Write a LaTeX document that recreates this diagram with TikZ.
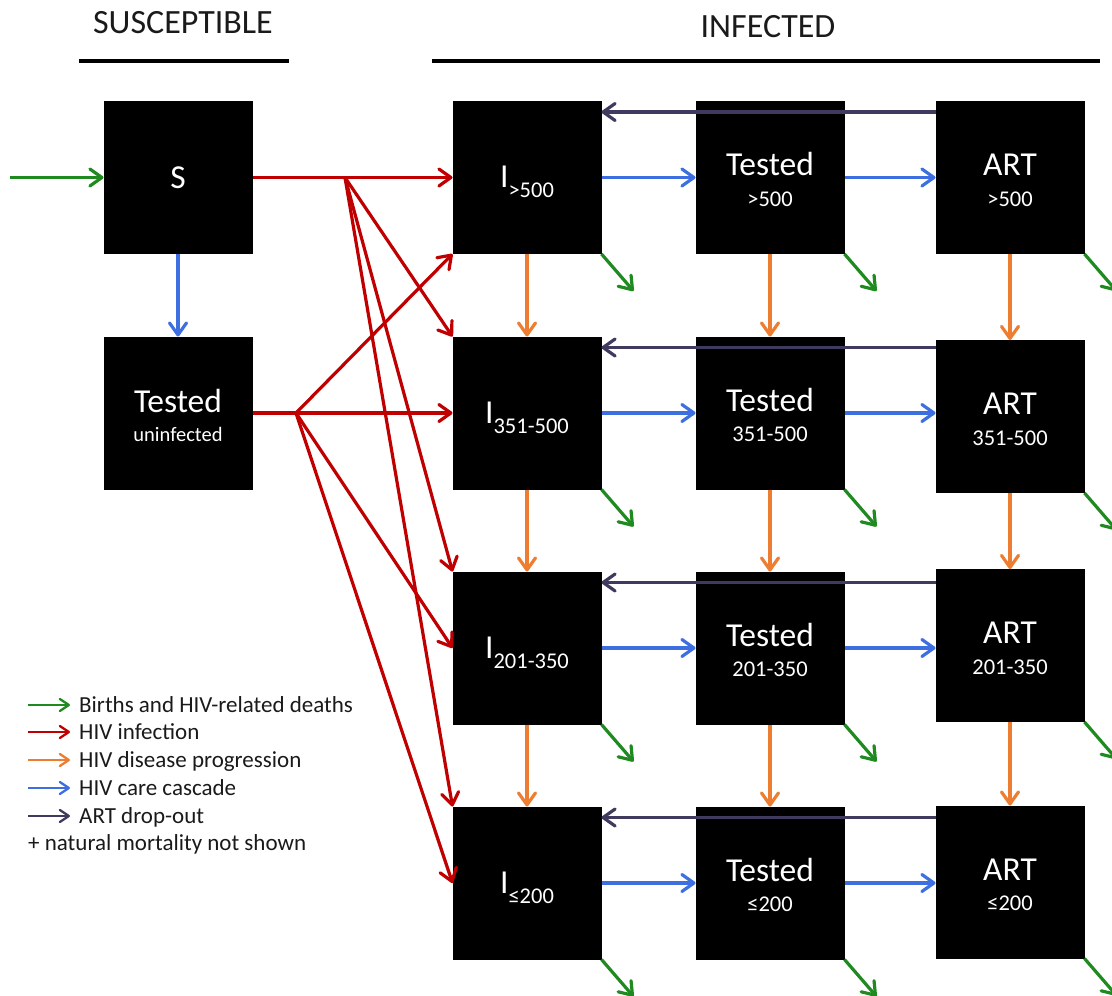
\documentclass[tikz,border=0pt]{standalone}
\usepackage{fontspec}
\setmainfont{Carlito}
\usetikzlibrary{arrows.meta,calc}

\definecolor{cGreen}{HTML}{1F8A1F}
\definecolor{cRed}{HTML}{C00000}
\definecolor{cOrange}{HTML}{ED7D31}
\definecolor{cBlue}{HTML}{3E6FE0}
\definecolor{cPurple}{HTML}{403A5E}
\definecolor{cText}{HTML}{1A1A1A}

\tikzset{
  compartment/.style={fill=black, draw=none, minimum width=149pt, minimum height=153pt,
    inner sep=0pt, outer sep=0pt},
  boxtitle/.style={text=white, inner sep=0pt, anchor=base, font=\fontsize{33.5}{38}\selectfont},
  boxsub/.style={text=white, inner sep=0pt, anchor=base, font=\fontsize{22.5}{26}\selectfont},
  header/.style={text=cText, inner sep=0pt, anchor=base, font=\fontsize{34}{40}\selectfont},
  legendtext/.style={text=cText, inner sep=0pt, anchor=base west, font=\fontsize{23}{27}\selectfont},
  rulebar/.style={line width=3.5pt, draw=black},
  flow/.style={line width=3.2pt, -{Straight Barb[length=12pt,width=17pt,round]}},
  births/.style={flow, draw=cGreen},
  infect/.style={flow, draw=cRed},
  progress/.style={flow, draw=cOrange},
  care/.style={flow, draw=cBlue},
  dropout/.style={flow, draw=cPurple},
  keyarrow/.style={line width=2.3pt, -{Straight Barb[length=9pt,width=12pt,round]}},
}
\newcommand{\subsize}{\fontsize{22.5}{26}\selectfont}

\begin{document}
\begin{tikzpicture}[x=1pt,y=-1pt]
\useasboundingbox (0,0) rectangle (1112,996);
\clip (0,0) rectangle (1112,996);

% group headings
\node[header] (hs) at (183,33) {SUSCEPTIBLE};
\node[header] (hi) at (768,37) {INFECTED};
\coordinate (hs-a) at (79,61);  \coordinate (hs-b) at (289,61);
\coordinate (hi-a) at (432,61); \coordinate (hi-b) at (1100,61);
\draw[rulebar] (hs-a) -- (hs-b);
\draw[rulebar] (hi-a) -- (hi-b);

% compartments
\node[compartment] (S) at (178,177.5) {};
\node[compartment] (U) at (178,413) {};
\foreach \n/\x/\y in {i1/527/177.5, t1/770/177.5, a1/1010/177.5,
                      i2/527/413,   t2/770/413,   a2/1010/416.5,
                      i3/527/648,   t3/770/648,   a3/1010/645.5,
                      i4/527/883,   t4/770/883,   a4/1010/882}
  \node[compartment] (\n) at (\x,\y) {};

% compartment labels
\node[boxtitle] (S-l) at ($(S.center)+(0,10.5)$) {S};
\node[boxtitle] (U-l) at ($(U.center)+(0,-1)$) {Tested};
\node[boxsub, font=\fontsize{20.5}{24}\selectfont] (U-s) at ($(U.center)+(0,28)$) {uninfected};

\foreach \r/\s in {1/{>500}, 2/{351-500}, 3/{201-350}, 4/{≤200}} {
  \node[boxtitle] (i\r-l) at ($(i\r.center)+(0,10)$) {I\raisebox{-10pt}{\subsize \s}};
  \node[boxtitle] (t\r-l) at ($(t\r.center)+(0,-2)$) {Tested};
  \node[boxsub]   (t\r-s) at ($(t\r.center)+(0,28.5)$) {\s};
  \node[boxtitle] (a\r-l) at ($(a\r.center)+(0,-2)$) {ART};
  \node[boxsub]   (a\r-s) at ($(a\r.center)+(0,28.5)$) {\s};
}

% births and testing of the susceptible
\coordinate (entry) at (10,177.5);
\draw[births] (entry) -- (S.west);
\draw[care] (S.south) -- (U.north);

% infection
\coordinate (sj) at (345,177.5);
\coordinate (tj) at (296,413);
\draw[infect] (S.east) -- (sj) -- (i1.west);
\draw[infect] (sj) -- (i2.north west);
\draw[infect] (sj) -- (i3.north west);
\draw[infect] (sj) -- (i4.north west);
\draw[infect] (U.east) -- (tj) -- (i2.west);
\draw[infect] (tj) -- (i1.south west);
\draw[infect] (tj) -- (i3.west);
\draw[infect] (tj) -- (i4.west);

% care cascade and ART drop-out along each row
\foreach \r in {1,...,4} {
  \draw[care] (i\r.east) -- (i\r.east -| t\r.west);
  \draw[care] (t\r.east) -- (t\r.east -| a\r.west);
  \coordinate (p\r) at ([yshift=-11pt]i\r.north east);
  \draw[dropout] (a\r.west |- p\r) -- (p\r);
}

% disease progression down each column
\foreach \c in {i,t,a}
  \foreach \r/\q in {1/2, 2/3, 3/4}
    \draw[progress] (\c\r.south) -- (\c\q.north);

% HIV-related deaths
\foreach \c in {i,t,a}
  \foreach \r in {1,...,4} {
    \coordinate (d-\c\r) at ($(\c\r.south east)+(32,37)$);
    \draw[births] (\c\r.south east) -- (d-\c\r);
  }

% key
\foreach \k/\col/\yy in {1/cGreen/705, 2/cRed/732, 3/cOrange/760, 4/cBlue/788, 5/cPurple/816} {
  \coordinate (k\k a) at (28,\yy);
  \coordinate (k\k b) at (70,\yy);
  \draw[keyarrow, draw=\col] (k\k a) -- (k\k b);
}
\node[legendtext] (k1t) at (79,712.5) {Births and HIV-related deaths};
\node[legendtext] (k2t) at (79,739.5) {HIV infection};
\node[legendtext] (k3t) at (79,767.5) {HIV disease progression};
\node[legendtext] (k4t) at (79,795.5) {HIV care cascade};
\node[legendtext] (k5t) at (79,823.5) {ART drop-out};
\node[legendtext] (k6t) at (28,850.5) {+ natural mortality not shown};
\end{tikzpicture}
\end{document}
